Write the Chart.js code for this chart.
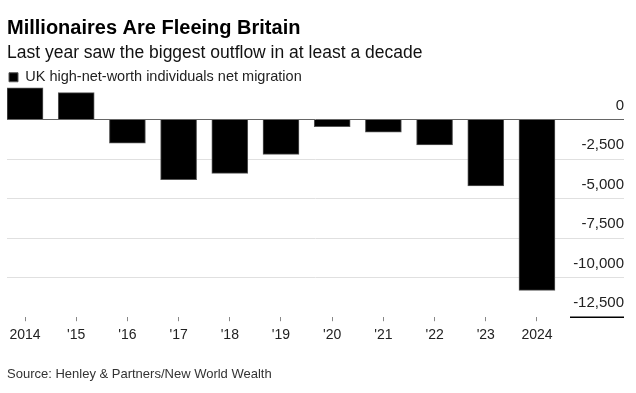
<!DOCTYPE html>
<html>
<head>
<meta charset="utf-8">
<script src="https://cdn.jsdelivr.net/npm/chart.js@4/dist/chart.umd.min.js"></script>
<style>
  html, body { margin: 0; padding: 0; background: #fff; }
  #wrap { position: relative; width: 636px; height: 393px; }
  #source { position: absolute; left: 7px; top: 367px; font: 13px/13px "Liberation Sans", Arial, sans-serif; color: #333; white-space: nowrap; }
</style>
</head>
<body>
<div id="wrap">
  <canvas id="c" width="636" height="393"></canvas>
  <div id="source">Source: Henley &amp; Partners/New World Wealth</div>
</div>
<script>
const categories = ["2014", "'15", "'16", "'17", "'18", "'19", "'20", "'21", "'22", "'23", "2024"];
const netMigration = [2000, 1700, -1500, -3800, -3400, -2200, -450, -800, -1600, -4200, -10800];
const yTicks = [0, -2500, -5000, -7500, -10000, -12500];
const seriesName = "UK high-net-worth individuals net migration";

const FONT = '"Liberation Sans", Arial, sans-serif';

// let the compact legend draw its text without being clipped to its shortened box
const legendNoClip = {
  id: 'legendNoClip',
  beforeLayout(chart) {
    const lg = chart.legend;
    if (lg && !lg.__noclip) {
      lg.__noclip = true;
      lg.draw = function () { if (this.options.display) this._draw(); };
    }
  }
};

const bottomRule = {
  id: 'bottomRule',
  afterDatasetsDraw(chart) {
    const y = chart.scales.y.getPixelForValue(yTicks[yTicks.length - 1]);
    const ctx = chart.ctx;
    ctx.save();
    ctx.strokeStyle = '#000';
    ctx.lineWidth = 1.5;
    ctx.beginPath();
    ctx.moveTo(570, y);
    ctx.lineTo(chart.chartArea.right, y);
    ctx.stroke();
    ctx.restore();
  }
};

new Chart(document.getElementById('c'), {
  type: 'bar',
  data: {
    datasets: [{
      label: seriesName,
      data: netMigration.map((v, i) => ({ x: i, y: v })),
      backgroundColor: '#000',
      borderColor: '#555',
      borderWidth: 1,
      barThickness: 36
    }]
  },
  options: {
    responsive: false,
    animation: false,
    layout: { padding: { left: 7, right: 12, top: 0, bottom: 43 } },
    plugins: {
      title: {
        display: true,
        text: 'Millionaires Are Fleeing Britain',
        align: 'start',
        color: '#000',
        font: { family: FONT, size: 20, weight: 'bold' },
        padding: { top: 16, bottom: 0 }
      },
      subtitle: {
        display: true,
        text: 'Last year saw the biggest outflow in at least a decade',
        align: 'start',
        color: '#111',
        font: { family: FONT, size: 17.5 },
        padding: { top: 3, bottom: 4 }
      },
      legend: {
        display: true,
        align: 'start',
        maxHeight: 12,
        labels: {
          boxWidth: 9,
          boxHeight: 9,
          padding: 2,
          color: '#222',
          font: { family: FONT, size: 14.5 }
        }
      },
      tooltip: { enabled: false }
    },
    scales: {
      x: {
        type: 'linear',
        offset: false,
        min: -0.352,
        max: 11.70,
        afterBuildTicks(scale) {
          scale.ticks = categories.map((_, i) => ({ value: i }));
        },
        grid: { offset: false, drawOnChartArea: false, drawTicks: true, tickLength: 4, color: '#888' },
        border: { display: false },
        ticks: {
          padding: 6,
          color: '#222',
          font: { family: FONT, size: 14 },
          maxRotation: 0,
          autoSkip: false,
          callback: (v) => categories[v] ?? ''
        }
      },
      y: {
        position: 'right',
        min: -12500,
        max: 2500,
        afterBuildTicks(scale) {
          scale.ticks = yTicks.map(v => ({ value: v }));
        },
        grid: {
          drawTicks: false,
          color: (ctx) => {
            const v = ctx.tick && ctx.tick.value;
            if (v === 0) return '#666';
            if (v === -12500) return 'rgba(0,0,0,0)';
            return '#e0e0e0';
          }
        },
        border: { display: false },
        ticks: {
          mirror: true,
          padding: 0,
          labelOffset: -14,
          color: '#222',
          font: { family: FONT, size: 15 },
          callback: (v) => Number(v).toLocaleString('en-US')
        }
      }
    }
  },
  plugins: [legendNoClip, bottomRule]
});
</script>
</body>
</html>
